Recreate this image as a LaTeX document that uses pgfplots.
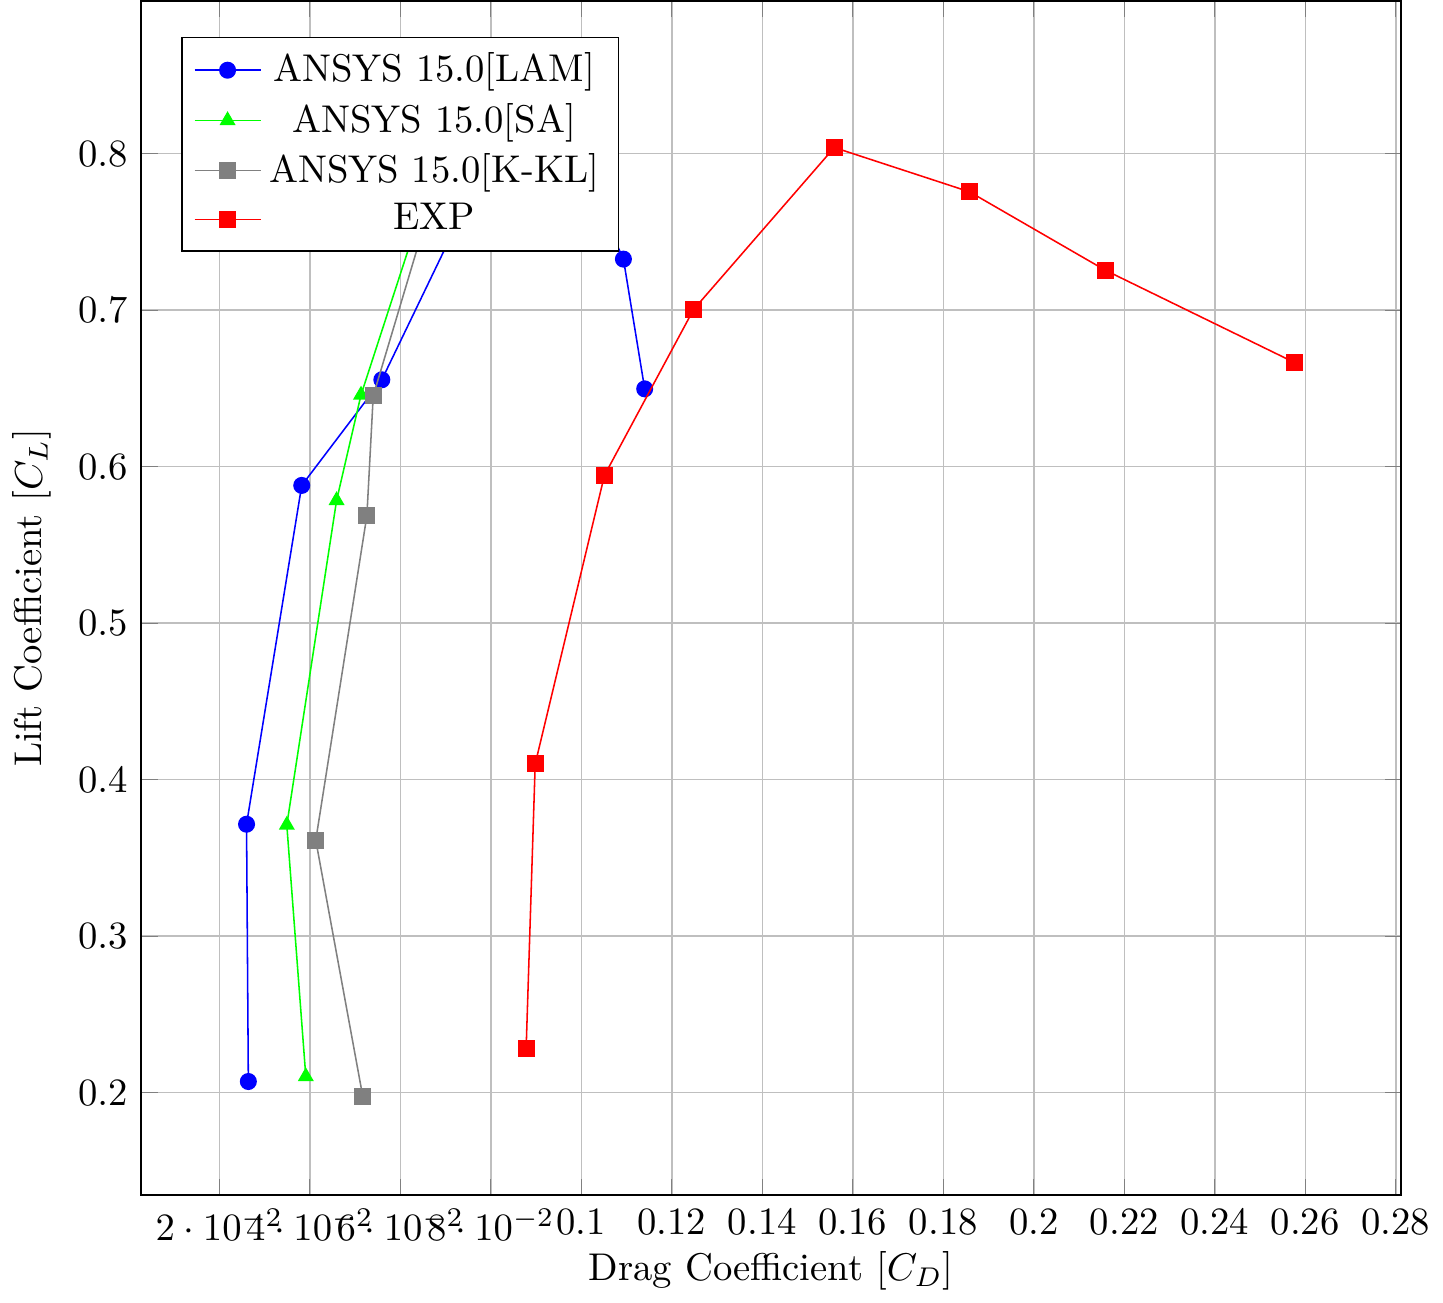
\documentclass[border=0pt]{standalone}
\usepackage{pgfplots}
\pgfplotsset{compat=1.18}
\begin{document}
\begin{tikzpicture}
    \begin{axis}[
        scale only axis,
        width=326pt,
        height=309pt,
        xmin=0.0027, xmax=0.2812,
        ymin=0.1345, ymax=0.8977,
        xtick={0.02,0.04,0.06,0.08,0.1,0.12,0.14,0.16,0.18,0.2,0.22,0.24,0.26,0.28},
        xticklabels={$2\cdot10^{-2}$,$4\cdot10^{-2}$,$6\cdot10^{-2}$,$8\cdot10^{-2}$,0.1,0.12,0.14,0.16,0.18,0.2,0.22,0.24,0.26,0.28},
        ytick={0.2,0.3,0.4,0.5,0.6,0.7,0.8},
        grid=major,
        xlabel={Drag Coefficient [$C_D$]},
        xlabel style={yshift=4pt},
        ylabel={Lift Coefficient [$C_L$]},
        legend cell align=center,
        legend style={at={(0.032,0.97)}, anchor=north west},
        clip mode=individual,
    ]
        % laminar
        \addplot[blue, mark=*] coordinates {
            (0.0264, 0.2071)
            (0.0260, 0.3715)
            (0.0382, 0.5880)
            (0.0559, 0.6555)
            (0.0800, 0.8000)
            (0.1014, 0.7830)
            (0.1093, 0.7326)
            (0.1140, 0.6497)
        };
        \addlegendentry{ANSYS 15.0[LAM]}
        % spalart-allmaras
        \addplot[green, mark=triangle*] coordinates {
            (0.0391, 0.2103)
            (0.0349, 0.3710)
            (0.0459, 0.5784)
            (0.0513, 0.6458)
            (0.0664, 0.7800)
        };
        \addlegendentry{ANSYS 15.0[SA]}
        % k-kl
        \addplot[gray, mark=square*] coordinates {
            (0.0517, 0.1974)
            (0.0413, 0.3613)
            (0.0526, 0.5687)
            (0.0540, 0.6452)
            (0.0700, 0.8000)
            (0.1009, 0.7520)
        };
        \addlegendentry{ANSYS 15.0[K-KL]}
        % experiment
        \addplot[red, mark=square*] coordinates {
            (0.0878, 0.2283)
            (0.0898, 0.4100)
            (0.1051, 0.5944)
            (0.1248, 0.7004)
            (0.1559, 0.8039)
            (0.1858, 0.7756)
            (0.2158, 0.7255)
            (0.2577, 0.6664)
        };
        \addlegendentry{EXP}
    \end{axis}
\end{tikzpicture}
\end{document}
